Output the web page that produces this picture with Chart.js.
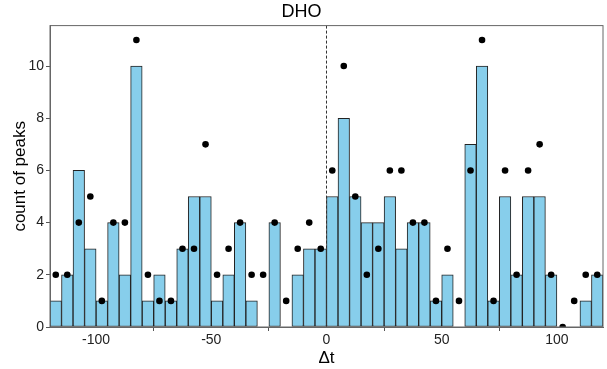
<!DOCTYPE html>
<html>
<head>
<meta charset="utf-8">
<script src="https://cdn.jsdelivr.net/npm/chart.js@4.4.1/dist/chart.umd.min.js"></script>
<style>
  html, body { margin: 0; padding: 0; background: #fff; }
  #wrap { width: 607px; height: 369px; }
</style>
</head>
<body>
<div id="wrap"><canvas id="dhoChart" width="607" height="369"></canvas></div>
<script>
// Tâm của mỗi bin (độ rộng 5)
const binCenters = [
  -117.5, -112.5, -107.5, -102.5, -97.5, -92.5, -87.5, -82.5, -77.5, -72.5, -67.5, -62.5,
  -57.5, -52.5, -47.5, -42.5, -37.5, -32.5, -27.5, -22.5, -17.5, -12.5, -7.5, -2.5,
  2.5, 7.5, 12.5, 17.5, 22.5, 27.5, 32.5, 37.5, 42.5, 47.5, 52.5, 57.5,
  62.5, 67.5, 72.5, 77.5, 82.5, 87.5, 92.5, 97.5, 102.5, 107.5, 112.5, 117.5
];
// Chiều cao cột histogram
const barCounts = [
  1, 2, 6, 3, 1, 4, 2, 10, 1, 2, 1, 3,
  5, 5, 1, 2, 4, 1, 0, 4, 0, 2, 3, 3,
  5, 8, 5, 4, 4, 5, 3, 4, 4, 1, 2, 0,
  7, 10, 1, 5, 2, 5, 5, 2, 0, 0, 1, 2
];
// Các điểm đen
const dotCounts = [
  2, 2, 4, 5, 1, 4, 4, 11, 2, 1, 1, 3,
  3, 7, 2, 3, 4, 2, 2, 4, 1, 3, 4, 3,
  6, 10, 5, 2, 3, 6, 6, 4, 4, 1, 3, 1,
  6, 11, 1, 6, 2, 6, 7, 2, 0, 1, 2, 2
];
const xTicks = [-100, -50, 0, 50, 100];
const yTicks = [0, 2, 4, 6, 8, 10];

const fontFam = 'Liberation Sans, Arial, sans-serif';

// Khung viền + đường đứt nét tại 0
const panelPlugin = {
  id: 'panel',
  afterDatasetsDraw(chart) {
    const { ctx, chartArea: a, scales } = chart;
    ctx.save();
    const x0 = scales.x.getPixelForValue(0);
    ctx.strokeStyle = '#333';
    ctx.lineWidth = 1;
    ctx.setLineDash([3, 2]);
    ctx.beginPath();
    ctx.moveTo(x0, a.top);
    ctx.lineTo(x0, a.bottom);
    ctx.stroke();
    ctx.setLineDash([]);
    ctx.strokeStyle = '#666';
    ctx.strokeRect(a.left, a.top, a.right - a.left, a.bottom - a.top);
    ctx.restore();
  }
};

const ctx = document.getElementById('dhoChart').getContext('2d');
new Chart(ctx, {
  type: 'bar',
  data: {
    datasets: [
      {
        type: 'scatter',
        data: binCenters.map((x, i) => ({ x: x, y: dotCounts[i] })),
        backgroundColor: '#000',
        borderColor: '#000',
        pointRadius: 3.3,
        borderWidth: 0,
        order: 0
      },
      {
        type: 'bar',
        data: binCenters.map((x, i) => ({ x: x, y: barCounts[i] === 0 ? null : barCounts[i] })),
        backgroundColor: '#87CEEB',
        borderColor: '#222',
        borderWidth: 1,
        borderSkipped: false,
        barPercentage: 1.0,
        categoryPercentage: 1.0,
        grouped: false,
        order: 1
      }
    ]
  },
  options: {
    responsive: false,
    animation: false,
    layout: { padding: { left: 0, right: 4, top: 0, bottom: 0 } },
    plugins: {
      legend: { display: false },
      tooltip: { enabled: false },
      title: {
        display: true,
        text: 'DHO',
        color: '#000',
        font: { family: fontFam, size: 18, weight: 'normal' },
        padding: { top: 1, bottom: 3 }
      }
    },
    scales: {
      x: {
        type: 'linear',
        min: -120,
        max: 120,
        offset: false,
        afterBuildTicks(scale) { scale.ticks = xTicks.map(v => ({ value: v })); },
        afterFit(scale) { scale.height = 42; },
        ticks: {
          color: '#222',
          font: { family: fontFam, size: 14 },
          padding: 1,
          maxRotation: 0
        },
        grid: { drawOnChartArea: false, drawTicks: true, tickLength: 4, color: '#555' },
        border: { color: '#666' },
        title: {
          display: true,
          text: 'Δt',
          color: '#000',
          font: { family: fontFam, size: 17 },
          padding: { top: 0, bottom: 0 }
        }
      },
      y: {
        min: 0,
        max: 11.55,
        afterBuildTicks(scale) { scale.ticks = yTicks.map(v => ({ value: v })); },
        afterFit(scale) { scale.width = 50; },
        ticks: {
          color: '#222',
          font: { family: fontFam, size: 14 },
          padding: 2
        },
        grid: { drawOnChartArea: false, drawTicks: true, tickLength: 4, color: '#555' },
        border: { color: '#666' },
        title: {
          display: true,
          text: 'count of peaks',
          color: '#000',
          font: { family: fontFam, size: 17 },
          padding: { top: 10, bottom: 0 }
        }
      }
    }
  },
  plugins: [panelPlugin]
});
</script>
</body>
</html>
